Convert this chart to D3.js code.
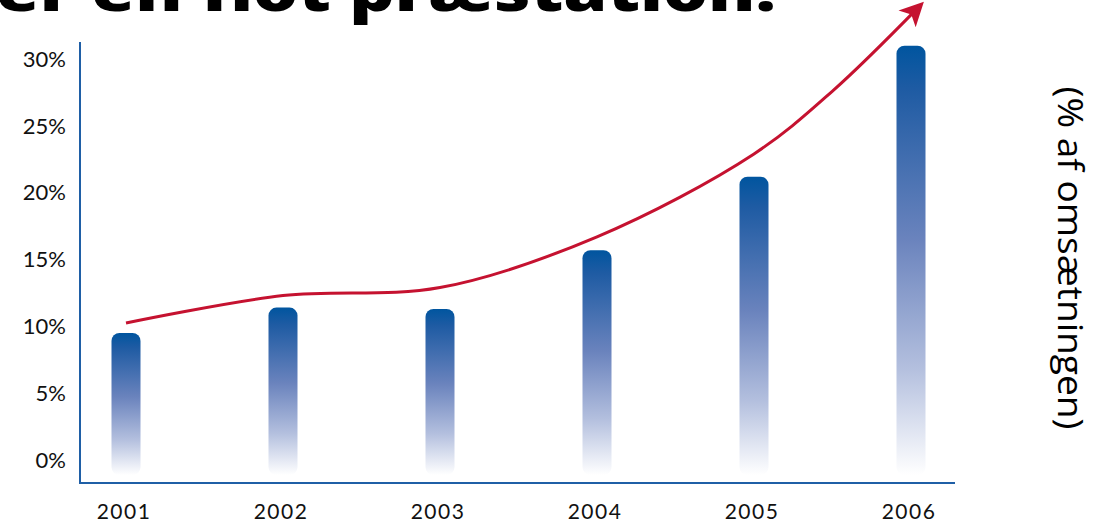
<!DOCTYPE html>
<html>
<head>
<meta charset="utf-8">
<script src="https://cdn.jsdelivr.net/npm/d3@7"></script>
<style>
  html, body { margin: 0; padding: 0; background: #fff; }
  svg { display: block; }
  text { font-family: Lato, "Open Sans", sans-serif; }
</style>
</head>
<body>
<svg id="chart" width="1114" height="524"></svg>
<script>
// ---- data ----
const titleText = "er en flot præstation.";
const axisLabel = "(% af omsætningen)";
const years = [2001, 2002, 2003, 2004, 2005, 2006];
const barValues = [9.5, 11.4, 11.3, 15.7, 21.2, 31.0];
const trendYears = [2001, 2002, 2003, 2004, 2005, 2005.5, 2006.05];
const trendValues = [10.25, 12.3, 12.9, 16.7, 22.9, 27.6, 33.9];
const yTicks = [0, 5, 10, 15, 20, 25, 30];
const yTickLabels = ["0%", "5%", "10%", "15%", "20%", "25%", "30%"];

const svg = d3.select("#chart");

const x = d3.scaleLinear().domain([2001, 2006]).range([126, 911]);
const y = d3.scaleLinear().domain([0, 30]).range([460, 59]);

// gradient
const defs = svg.append("defs");
const grad = defs.append("linearGradient")
  .attr("id", "barGrad").attr("x1", 0).attr("y1", 0).attr("x2", 0).attr("y2", 1);
grad.append("stop").attr("offset", "0%").attr("stop-color", "#00559f");
grad.append("stop").attr("offset", "10%").attr("stop-color", "#1e5ba3");
grad.append("stop").attr("offset", "45%").attr("stop-color", "#6a83bd");
grad.append("stop").attr("offset", "75%").attr("stop-color", "#b3bfde");
grad.append("stop").attr("offset", "100%").attr("stop-color", "#ffffff");

defs.append("marker")
  .attr("id", "arrow").attr("viewBox", "0 0 10 10")
  .attr("refX", 7).attr("refY", 5)
  .attr("markerWidth", 9).attr("markerHeight", 8)
  .attr("markerUnits", "strokeWidth")
  .attr("orient", "auto")
  .append("path").attr("d", "M0,0 L10,5 L0,10 L2.5,5 Z").attr("fill", "#c51230");

// title (cut at top, as in the reference)
svg.append("text")
  .attr("x", -4).attr("y", 11)
  .attr("textLength", 780).attr("lengthAdjust", "spacingAndGlyphs")
  .style("font-family", "'Open Sans', sans-serif")
  .style("font-weight", 800)
  .style("font-size", "56px")
  .attr("fill", "#000")
  .text(titleText);

// axes lines
const axisColor = "#1f5fa6";
svg.append("line").attr("x1", 80).attr("x2", 80).attr("y1", 42).attr("y2", 484)
  .attr("stroke", axisColor).attr("stroke-width", 2);
svg.append("line").attr("x1", 79).attr("x2", 955).attr("y1", 483).attr("y2", 483)
  .attr("stroke", axisColor).attr("stroke-width", 2);

// y tick labels
svg.append("g").selectAll("text").data(yTicks).join("text")
  .attr("x", 66).attr("y", d => y(d))
  .attr("dy", "0.35em")
  .attr("text-anchor", "end")
  .attr("fill", "#111")
  .style("font-size", "22px")
  .text((d, i) => yTickLabels[i]);

// x tick labels
svg.append("g").selectAll("text").data(years).join("text")
  .attr("x", d => x(d) - 2).attr("y", 519)
  .attr("text-anchor", "middle")
  .attr("fill", "#111")
  .style("font-size", "21px")
  .style("letter-spacing", "1.5px")
  .text(d => String(d));

// bars
const barW = 29;
svg.append("g").selectAll("rect").data(years).join("rect")
  .attr("x", d => x(d) - barW / 2)
  .attr("y", (d, i) => y(barValues[i]))
  .attr("width", barW)
  .attr("height", (d, i) => y(0) + 15 - y(barValues[i]))
  .attr("rx", 8).attr("ry", 8)
  .attr("fill", "url(#barGrad)");

// trend line
const line = d3.line()
  .x((d, i) => x(trendYears[i]))
  .y(d => y(d))
  .curve(d3.curveCatmullRom.alpha(0.5));
svg.append("path")
  .datum(trendValues)
  .attr("d", line)
  .attr("fill", "none")
  .attr("stroke", "#c51230")
  .attr("stroke-width", 3)
  .attr("marker-end", "url(#arrow)");

// right axis label
svg.append("text")
  .attr("transform", "translate(1058,258) rotate(90)")
  .attr("text-anchor", "middle")
  .attr("textLength", 343).attr("lengthAdjust", "spacingAndGlyphs")
  .attr("fill", "#000")
  .style("font-family", "'Open Sans', sans-serif")
  .style("font-size", "34px")
  .text(axisLabel);
</script>
</body>
</html>
